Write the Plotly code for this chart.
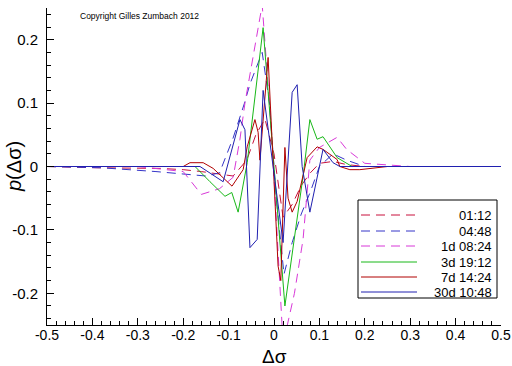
import plotly.graph_objects as go

# ---- data ----
labels = ["01:12", "04:48", "1d 08:24", "3d 19:12", "7d 14:24", "30d 10:48"]

x_0112 = [-0.5, -0.39, -0.25, -0.2, -0.16, -0.12, -0.09, -0.06, -0.04, -0.02, 0.0, 0.02, 0.04, 0.06, 0.08, 0.1, 0.13, 0.16, 0.2, 0.5]
y_0112 = [0, -0.002, -0.003, -0.005, -0.008, -0.012, -0.015, 0.01, 0.05, 0.075, 0.02, -0.08, -0.06, -0.03, -0.01, 0.005, 0.008, 0.003, 0, 0]

x_0448 = [-0.5, -0.38, -0.26, -0.2, -0.15, -0.12, -0.09, -0.065, -0.053, -0.026, -0.01, 0.005, 0.022, 0.04, 0.06, 0.08, 0.1, 0.13, 0.16, 0.2, 0.5]
y_0448 = [0, -0.002, -0.008, -0.012, -0.015, -0.01, 0.045, 0.1, 0.13, 0.18, 0.1, -0.05, -0.17, -0.12, -0.075, -0.04, 0.0, 0.02, 0.01, 0.0, 0]

x_1d = [-0.5, -0.3, -0.2, -0.16, -0.12, -0.09, -0.075, -0.064, -0.026, -0.005, 0.02, 0.045, 0.064, 0.079, 0.1, 0.139, 0.16, 0.2, 0.3, 0.5]
y_1d = [0, 0, -0.008, -0.044, -0.035, -0.017, 0.043, 0.10, 0.255, 0.05, -0.28, -0.2, -0.115, 0.01, 0.03, 0.046, 0.027, 0.005, 0, 0]

x_3d = [-0.5, -0.25, -0.174, -0.141, -0.108, -0.093, -0.079, -0.059, -0.024, 0.024, 0.065, 0.079, 0.095, 0.108, 0.139, 0.172, 0.25, 0.5]
y_3d = [0, 0, 0, -0.024, -0.047, -0.041, -0.072, 0.006, 0.219, -0.220, -0.01, 0.074, 0.043, 0.047, 0.014, 0, 0, 0]

x_7d = [-0.5, -0.2, -0.185, -0.156, -0.134, -0.0925, -0.068, -0.059, -0.042, -0.035, -0.031, -0.013, 0.009, 0.015, 0.024, 0.031, 0.040, 0.051, 0.073, 0.095, 0.108, 0.139, 0.145, 0.167, 0.189, 0.25, 0.5]
y_7d = [0, 0, 0.006, 0.006, -0.003, -0.031, -0.005, 0.031, 0.074, 0.054, 0.01, 0.172, -0.157, -0.18, 0.03, -0.05, -0.072, -0.055, 0.014, 0.031, 0.027, 0.011, 0.0, -0.005, -0.005, 0, 0]

x_30d = [-0.5, -0.163, -0.112, -0.075, -0.064, -0.053, -0.037, -0.024, 0.02, 0.04, 0.051, 0.062, 0.079, 0.108, 0.13, 0.145, 0.5]
y_30d = [0, 0, -0.024, 0.074, 0.058, -0.128, -0.115, 0.12, -0.12, 0.117, 0.129, 0.0, -0.072, 0.027, 0.006, 0, 0]

x_ticks = [-0.5, -0.4, -0.3, -0.2, -0.1, 0, 0.1, 0.2, 0.3, 0.4, 0.5]
x_tick_text = ["-0.5", "-0.4", "-0.3", "-0.2", "-0.1", "0", "0.1", "0.2", "0.3", "0.4", "0.5"]
y_ticks = [-0.2, -0.1, 0, 0.1, 0.2]
y_tick_text = ["-0.2", "-0.1", "0", "0.1", "0.2"]

colors = ["#c8103c", "#3434c8", "#d838d8", "#18b818", "#b00000", "#2020b0"]
dashes = ["9px,6px", "9px,6px", "9px,6px", "solid", "solid", "solid"]
xs = [x_0112, x_0448, x_1d, x_3d, x_7d, x_30d]
ys = [y_0112, y_0448, y_1d, y_3d, y_7d, y_30d]

FONT = "Liberation Sans, Arial, sans-serif"

fig = go.Figure()
for x, y, c, d, n in zip(xs, ys, colors, dashes, labels):
    fig.add_trace(go.Scatter(x=x, y=y, mode="lines", name=n,
                             line=dict(color=c, width=1, dash=d),
                             showlegend=False, cliponaxis=True))

W, H = 512, 366
L, R, T, B = 47, 11, 8, 41
pw, ph = W - L - R, H - T - B

def px(xp):
    return (xp - L) / pw

def py(yp):
    return 1 - (yp - T) / ph

shapes = [dict(type="rect", xref="paper", yref="paper",
               x0=px(358), x1=px(497), y0=py(298), y1=py(200),
               line=dict(color="black", width=1), fillcolor="white", layer="above")]
annotations = []
rows = [215, 231, 246, 262, 277, 292]
for yr, c, d, n in zip(rows, colors, dashes, labels):
    shapes.append(dict(type="line", xref="paper", yref="paper",
                       x0=px(361), x1=px(417), y0=py(yr), y1=py(yr),
                       line=dict(color=c, width=1, dash=d), layer="above"))
    annotations.append(dict(text=n, xref="paper", yref="paper", x=px(494), y=py(yr),
                            xanchor="right", yanchor="middle", showarrow=False,
                            font=dict(family=FONT, size=13, color="black")))

annotations.append(dict(text="Copyright Gilles Zumbach 2012", xref="paper", yref="paper",
                        x=px(78), y=py(16), xanchor="left", yanchor="middle", showarrow=False,
                        font=dict(family=FONT, size=8.5, color="black")))
annotations.append(dict(text="<i>p</i>(Δσ)", xref="paper", yref="paper",
                        x=px(14), y=py(167), xanchor="center", yanchor="middle", showarrow=False,
                        textangle=-90, font=dict(family=FONT, size=20, color="black")))
annotations.append(dict(text="Δσ", xref="paper", yref="paper",
                        x=px(274), y=py(356), xanchor="center", yanchor="middle", showarrow=False,
                        font=dict(family=FONT, size=19, color="black")))

fig.update_layout(
    width=W, height=H, margin=dict(l=L, r=R, t=T, b=B, autoexpand=False),
    paper_bgcolor="white", plot_bgcolor="white",
    font=dict(family=FONT, size=14, color="black"),
    shapes=shapes, annotations=annotations, showlegend=False,
    xaxis=dict(range=[-0.5, 0.5], tickvals=x_ticks, ticktext=x_tick_text,
               showgrid=False, zeroline=False,
               showline=True, linecolor="black", linewidth=1,
               ticks="inside", ticklen=7, tickcolor="black", tickwidth=1,
               minor=dict(ticks="inside", ticklen=4, dtick=0.02, tickcolor="black", showgrid=False),
               tickfont=dict(size=14), ticklabelstandoff=-3),
    yaxis=dict(range=[-0.25, 0.25], tickvals=y_ticks, ticktext=y_tick_text,
               showgrid=False, zeroline=False,
               showline=True, linecolor="black", linewidth=1,
               ticks="inside", ticklen=7, tickcolor="black", tickwidth=1,
               minor=dict(ticks="inside", ticklen=4, dtick=0.02, tickcolor="black", showgrid=False),
               tickfont=dict(size=15), ticklabelstandoff=5),
)

# remove the page's default body margin so the 512x366 figure fills the window
fig.write_html("out.html", config={"displayModeBar": False},
               post_script="document.body.style.margin='0';document.body.style.overflow='hidden';")
